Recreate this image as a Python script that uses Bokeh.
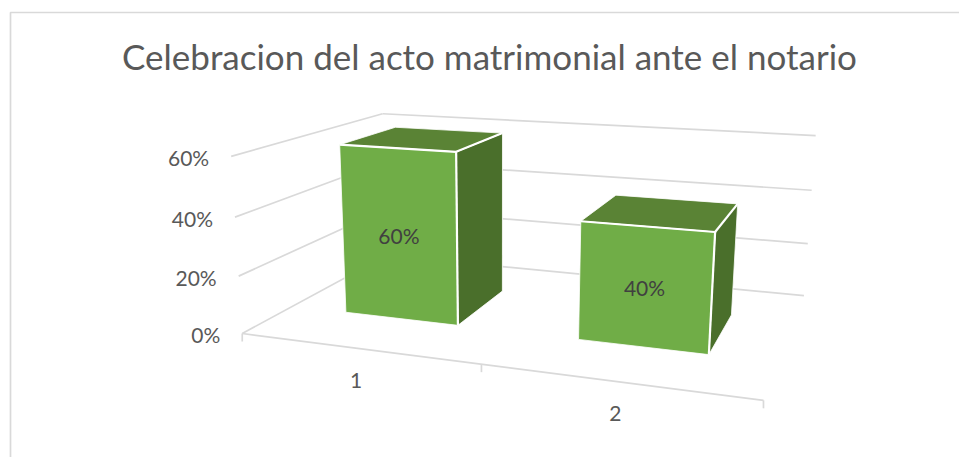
import numpy as np
from bokeh.plotting import figure
from bokeh.core.properties import value
from bokeh.embed import file_html
from bokeh.resources import INLINE

title = "Celebracion del acto matrimonial ante el notario"
categories = ["1", "2"]
values = [0.60, 0.40]
bar_labels = ["60%", "40%"]
y_ticks = [0.0, 0.2, 0.4, 0.6]
y_tick_labels = ["0%", "20%", "40%", "60%"]

# 3D camera of the chart: (category, value, depth) -> page pixels
CAM = np.array([[202.7045783745516, -34.28222708611732, 245.62719360815564, 241.74401178475654],
                [3.0494199561213287, -305.89334341869585, -11.097724615757617, 333.0159379159753],
                [-0.07590560452553063, -0.06868733640575186, 0.2630019142203235, 1.0]])
BAR_W, D0, D1 = 0.25, 0.30, 0.70
FONT = "Lato"
GRID, AXT, LBL = "#D9D9D9", "#595959", "#404040"
FRONT, TOP, SIDE = "#70AD47", "#5A8335", "#4A6F2B"


def pr(x, y, z):
    h = CAM @ np.array([x, y, z, 1.0])
    return h[0] / h[2], h[1] / h[2]


W, H = 959, 457
p = figure(width=W, height=H, x_range=(0, W), y_range=(H, 0),
           output_backend="svg", toolbar_location=None, min_border=0,
           background_fill_color="white", border_fill_color="white")
p.axis.visible = False
p.grid.visible = False
p.outline_line_color = None


def seg(a, b, color=GRID, width=1.7):
    p.line([a[0], b[0]], [a[1], b[1]], line_color=color, line_width=width)


# chart frame
fx, fy = 10, 12
p.line([fx, fx, W], [H, fy, fy], line_color=GRID, line_width=1.7)

n = len(categories)
# gridlines on the side and back walls
for t in y_ticks:
    seg(pr(0, t, 0), pr(0, t, 1))
    seg(pr(0, t, 1), pr(n, t, 1))
# floor front edge and ticks
seg(pr(0, 0, 0), pr(n, 0, 0))
for i in range(n + 1):
    a = pr(i, 0, 0)
    seg(a, (a[0], a[1] + 8))

# bars
for i, v in enumerate(values):
    c = i + 0.5
    x0, x1 = c - BAR_W, c + BAR_W
    fl, fr, bl_, br_ = pr(x0, 0, D0), pr(x1, 0, D0), pr(x0, 0, D1), pr(x1, 0, D1)
    tl, tr, tbl, tbr = pr(x0, v, D0), pr(x1, v, D0), pr(x0, v, D1), pr(x1, v, D1)
    for pts, col in (((tr, fr, br_, tbr), SIDE), ((tl, tr, tbr, tbl), TOP), ((fl, fr, tr, tl), FRONT)):
        xs, ys = zip(*pts)
        p.patch(list(xs), list(ys), fill_color=col, line_color="white", line_width=0.8)
    seg(tl, tr, "white", 2.2)
    seg(tr, fr, "white", 2.2)
    seg(tr, tbr, "white", 2.2)

# texts
tx, ty = [], []
for t in y_ticks:
    a = pr(0, t, 0)
    tx.append(a[0] - 22)
    ty.append(a[1] + 1)
p.text(tx, ty, text=y_tick_labels, text_align="right", text_baseline="middle",
       text_font=value(FONT), text_font_size="21px", text_color=AXT)

cx, cy = [], []
for i in range(n):
    a = pr(i + 0.5, 0, 0)
    cx.append(a[0] - 1)
    cy.append(a[1] + 32.5)
p.text(cx, cy, text=categories, text_align="center", text_baseline="middle",
       text_font=value(FONT), text_font_size="21px", text_color=AXT)

dx, dy = [], []
for i, v in enumerate(values):
    a = pr(i + 0.5, v / 2, D0)
    dx.append(a[0])
    dy.append(a[1])
p.text(dx, dy, text=bar_labels, text_align="center", text_baseline="middle",
       text_font=value(FONT), text_font_size="21px", text_color=LBL)

p.text([489], [55], text=[title], text_align="center", text_baseline="middle",
       text_font=value(FONT), text_font_size="35px", text_color=AXT)

open("out.html", "w").write(file_html(p, INLINE))
